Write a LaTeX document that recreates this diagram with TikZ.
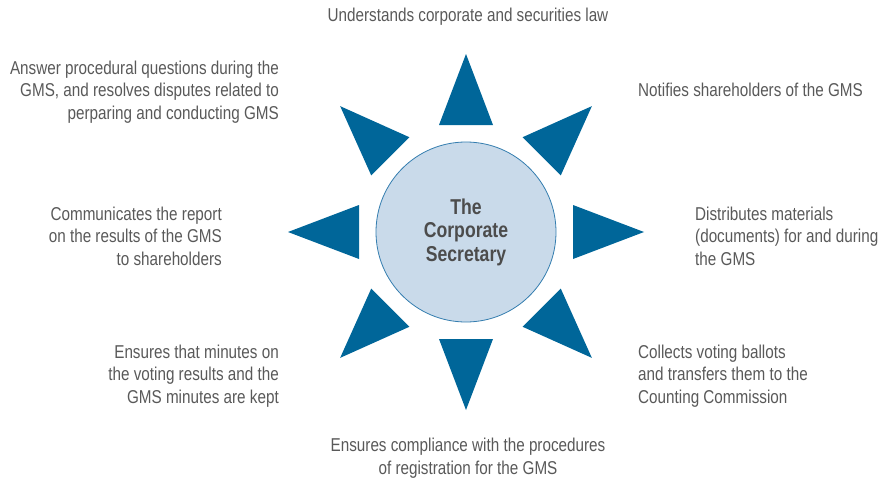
\documentclass[tikz,border=0pt]{standalone}
\usepackage{fontspec}
\setmainfont{Liberation Sans}[FakeStretch=0.82]
\usetikzlibrary{positioning}

\definecolor{spike}{RGB}{0,102,153}
\definecolor{hubfill}{RGB}{201,218,234}
\definecolor{hubline}{RGB}{52,125,175}
\definecolor{txtgray}{RGB}{89,89,89}

\tikzset{
    duty/.style={inner sep=0pt, text=txtgray, font=\fontsize{18.6}{22.5}\selectfont},
    hub/.style={circle, minimum size=180pt, inner sep=0pt, fill=hubfill, draw=hubline, line width=0.8pt,
        text=black!70, align=center, font=\bfseries\fontsize{21.5}{23.5}\selectfont}
}

\begin{document}
\begin{tikzpicture}[x=1pt,y=-1pt]
    \useasboundingbox (0,0) rectangle (878,479);

    \coordinate (c) at (466,232);

    % spikes round the hub
    \foreach \a in {0,45,...,315}{%
        \fill [spike, shift={(c)}, rotate=\a] (107,-27) -- (178,0) -- (107,27) -- cycle;
    }

    \node [hub] (sec) at (c) {The\\Corporate\\Secretary};

    \begin{scope}[duty]
        \node [align=center] (law)     at (468,17)  {Understands corporate and securities law};
        \node [anchor=west, align=left] (notify) at (638,90) {Notifies shareholders of the GMS};
        \node [anchor=west, align=left] (distr)  at (695,236) {Distributes materials\\(documents) for and during\\the GMS};
        \node [anchor=west, align=left] (ballot) at (638,376) {Collects voting ballots\\and transfers them to the\\Counting Commission};
        \node [align=center] (regist)  at (468,458) {Ensures compliance with the procedures\\of registration for the GMS};
        \node [anchor=east, align=right] (minute) at (279,376) {Ensures that minutes on\\the voting results and the\\GMS minutes are kept};
        \node [anchor=east, align=right] (report) at (222,236) {Communicates the report\\on the results of the GMS\\to shareholders};
        \node [anchor=east, align=right] (answer) at (279,92)  {Answer procedural questions during the\\GMS, and resolves disputes related to\\perparing and conducting GMS};
    \end{scope}

\end{tikzpicture}
\end{document}
